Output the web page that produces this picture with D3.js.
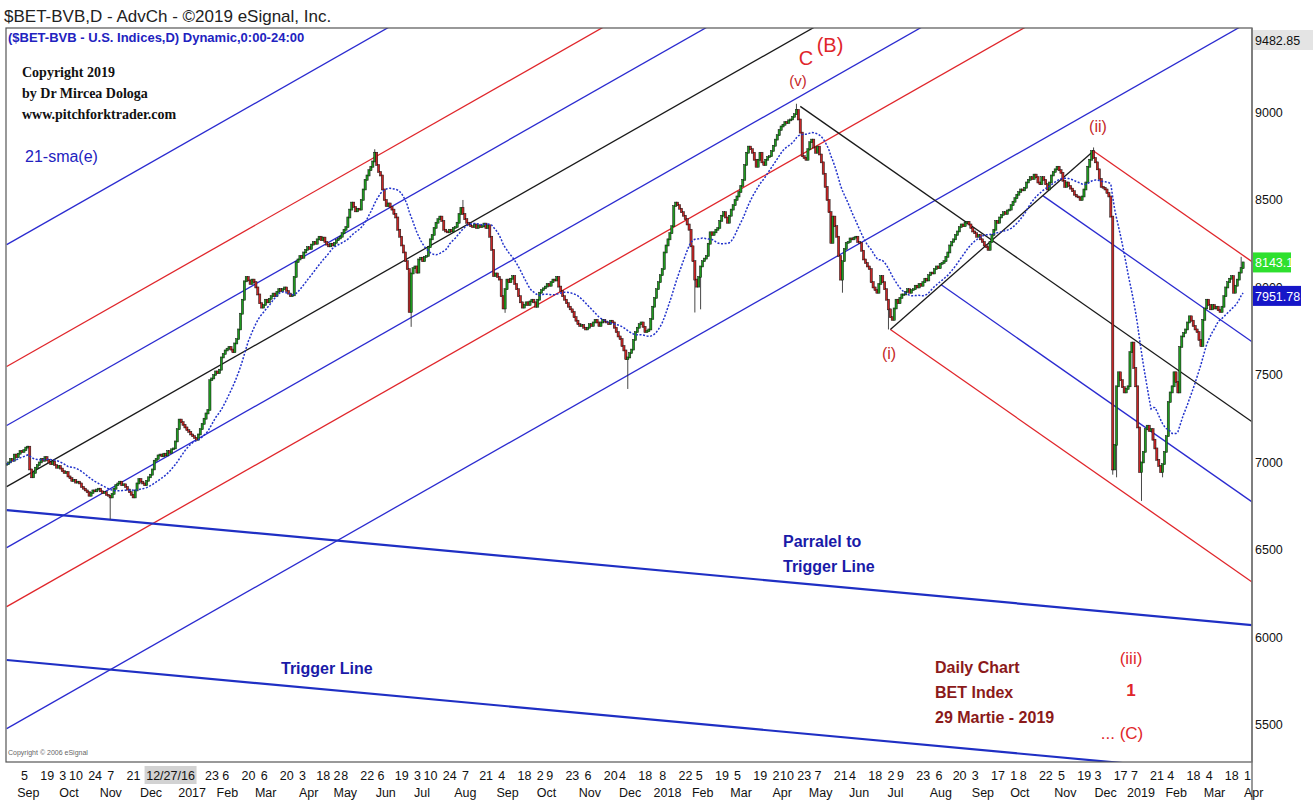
<!DOCTYPE html>
<html>
<head>
<meta charset="utf-8">
<title>$BET-BVB Daily Chart</title>
<script src="https://d3js.org/d3.v7.min.js"></script>
<style>
  body { margin: 0; background: #fff; }
  text { font-family: "Liberation Sans", Arial, sans-serif; }
</style>
</head>
<body>
<svg width="1313" height="800"></svg>
<script>
// daily closes, one value per BVB trading day
const closes2016 = [
  6990,7000,7020,7010,7045,7030,7050,7065,7060,7070,
  7085,7090,6960,6915,6940,6970,6985,7000,7020,7010,
  7030,7015,7000,6990,7005,6985,6970,6980,6965,6950,
  6940,6945,6920,6910,6895,6900,6885,6890,6880,
  6860,6850,6840,6830,6810,6825,6840,6835,6845,6850,
  6835,6825,6830,6815,6810,6800,6820,6850,6870,6880,
  6890,6870,6875,6860,6845,6830,6815,6800,6840,
  6880,6905,6890,6880,6870,6895,6915,6930,6960,7010,
  7020,7040,7045,7035,7050,7040,7065,7055,7075,
  7080,7120,7190
];
const closes2017 = [
  7245,7230,7215,7200,7185,7175,7160,7150,7140,7130,7160,7190,7220,7250,7280,7300,7470,7480,
  7500,7520,7510,7530,7600,7620,7640,7650,7660,7645,7630,7680,7705,7760,7850,7930,8035,8060,8040,8020,8045,8030,8000,7960,
  7910,7885,7900,7930,7915,7935,7950,7965,7950,7975,7990,7980,7990,8000,7980,7965,7950,7955,8060,8145,8160,8180,8170,8200,
  8215,8230,8220,8245,8260,8250,8275,8290,8270,8285,8260,8245,8235,8250,8240,8255,8270,8280,8290,8310,8330,8345,8400,8445,
  8485,8460,8435,8450,8445,8500,8560,8615,8640,8670,8690,8720,8770,8700,8660,8640,8560,8500,8465,8480,8460,8445,8420,8400,
  8330,8290,8240,8200,8150,8105,7860,8080,8110,8120,8085,8160,8170,8150,8175,8180,8230,8275,8300,8340,8370,8390,8405,8380,
  8330,8320,8315,8330,8320,8340,8345,8370,8420,8455,8420,8390,8370,8360,8350,8345,8360,8340,8355,8345,8350,8365,8340,8355,
  8290,8215,8065,8080,8060,8045,7950,7880,7990,8045,8030,8050,8065,8020,7990,7950,7915,7885,7900,7915,7900,7920,7930,7915,
  7890,7930,7970,7985,7995,8005,8020,8010,8030,8045,8040,8060,8005,7980,7950,7930,7910,7890,7875,7860,7830,7810,7790,7780,
  7785,7770,7760,7770,7790,7780,7800,7815,7800,7780,7800,7815,7805,7800,7790,7810,7800,7770,7745,7720,7705,7665,7640,
  7590,7600,7625,7645,7700,7745,7770,7790,7800,7775,7745,7750,7760,7820,7890
];
const closes2018 = [
  7940,7990,8030,8070,8105,8200,8240,8275,8310,8350,
  8465,8485,8470,8450,8430,8410,8390,8360,8330,8235,8150,8045,8005,8060,8120,8150,8165,8180,8250,8315,8300,8315,8330,8340,
  8380,8410,8430,8400,8370,8410,8445,8470,8500,8520,8545,8580,8615,8700,8770,8805,8790,8770,8730,8690,8730,8770,8715,8700,
  8730,8745,8750,8780,8810,8845,8870,8900,8920,8930,8945,8940,8955,8960,8975,8990,9015,8960,8885,8750,8740,8730,8790,8830,
  8845,8800,8770,8805,8760,8715,8650,8575,8500,8430,8255,8405,8350,8290,8180,8045,8150,8220,8255,8260,8280,8275,8285,8290,
  8260,8255,8210,8160,8140,8120,8105,8030,8000,7985,7970,8020,8065,8030,7990,7930,7875,7830,7815,7880,7930,7910,7940,7960,
  7960,7975,7990,7970,7985,7990,8010,8000,8020,8010,8030,8050,8040,8070,8085,8080,8105,8120,8110,8135,8140,8150,8175,8200,
  8240,8260,8275,8300,8320,8345,8360,8350,8370,8375,8360,8340,8320,8310,8290,8300,8275,8260,8240,8230,8215,8260,8300,8330,
  8380,8370,8400,8415,8430,8420,8440,8445,8470,8490,8510,8530,8545,8560,8555,8570,8600,8615,8630,8620,8645,8630,8600,8590,
  8630,8615,8590,8560,8600,8640,8660,8675,8690,8670,8655,8610,8575,8600,8580,8565,8550,8530,8520,8515,8500,8520,8560,8600,
  8690,8730,8780,8740,8715,8675,8620,8575,8570,8560,8540,8520,8405,6960,7100,7435,7515,7470,7430,7400,7420
];
const closes2019 = [
  7435,7630,7685,
  7540,7435,7200,6945,7000,7060,7190,7210,7180,7190,7130,7080,7015,6980,6945,6990,7060,7150,7345,7400,7435,7515,7460,7400,
  7660,7720,7740,7760,7800,7835,7810,7780,7760,7745,7700,7665,7815,7880,7930,7900,7875,7900,7880,7890,7870,7860,7890,7950,
  8000,8030,8050,8065,7970,8010,8045,8085,8110,8143.1
];
// long shadows that stick out of the bodies [bar index, price]
const wickLows = [[54,6675],[211,7775],[260,7855],[324,7420],[359,7857],[362,7875],[436,7970],[460,7760],[577,6930],[579,6915],[592,6780],[603,6915]];
const wickHighs = [[11,7095],[192,8790],[238,8500],[412,9050],[567,8800],[644,8175]];

// BVB calendar
const firstDay = "2016-08-24", lastDay = "2019-04-01";
const holidays = [
  "2016-11-30","2016-12-01","2016-12-26",
  "2017-01-02","2017-01-24","2017-04-14","2017-04-17","2017-05-01","2017-06-01","2017-06-05","2017-08-15","2017-11-30","2017-12-01","2017-12-25","2017-12-26",
  "2018-01-01","2018-01-02","2018-01-24","2018-04-06","2018-04-09","2018-05-01","2018-05-28","2018-06-01","2018-08-15","2018-11-30","2018-12-24","2018-12-25","2018-12-26","2018-12-31",
  "2019-01-01","2019-01-02","2019-01-24"
];

// axis labels
const yTicks = [9000, 8500, 8000, 7500, 7000, 6500, 6000, 5500];
const yTop = 9482.85, yBottom = 5288;
const lastClose = 8143.1, lastSma = 7951.78;
const dayTicks = [
  ["2016-09-05","5"],["2016-09-19","19"],["2016-10-03","3"],["2016-10-10","10"],["2016-10-24","24"],["2016-11-07","7"],["2016-11-21","21"],
  ["2017-01-23","23"],["2017-02-06","6"],["2017-02-20","20"],["2017-03-06","6"],["2017-03-20","20"],["2017-04-03","3"],["2017-04-18","18"],["2017-05-02","2"],["2017-05-08","8"],["2017-05-22","22"],["2017-06-06","6"],["2017-06-19","19"],["2017-07-03","3"],["2017-07-10","10"],["2017-07-24","24"],["2017-08-07","7"],["2017-08-21","21"],["2017-09-04","4"],["2017-09-18","18"],["2017-10-02","2"],["2017-10-09","9"],["2017-10-23","23"],["2017-11-06","6"],["2017-11-20","20"],["2017-12-04","4"],["2017-12-18","18"],
  ["2018-01-08","8"],["2018-01-22","22"],["2018-02-05","5"],["2018-02-19","19"],["2018-03-05","5"],["2018-03-19","19"],["2018-04-02","2"],["2018-04-10","10"],["2018-04-23","23"],["2018-05-07","7"],["2018-05-21","21"],["2018-06-04","4"],["2018-06-18","18"],["2018-07-02","2"],["2018-07-09","9"],["2018-07-23","23"],["2018-08-06","6"],["2018-08-20","20"],["2018-09-03","3"],["2018-09-17","17"],["2018-10-01","1"],["2018-10-08","8"],["2018-10-22","22"],["2018-11-05","5"],["2018-11-19","19"],["2018-12-03","3"],["2018-12-17","17"],
  ["2019-01-07","7"],["2019-01-21","21"],["2019-02-04","4"],["2019-02-18","18"],["2019-03-04","4"],["2019-03-18","18"],["2019-04-01","1"]
];
const cursorTick = ["2016-12-27","12/27/16"];
const monthTicks = [
  ["2016-09","Sep"],["2016-10","Oct"],["2016-11","Nov"],["2016-12","Dec"],
  ["2017-01","2017"],["2017-02","Feb"],["2017-03","Mar"],["2017-04","Apr"],["2017-05","May"],["2017-06","Jun"],["2017-07","Jul"],["2017-08","Aug"],["2017-09","Sep"],["2017-10","Oct"],["2017-11","Nov"],["2017-12","Dec"],
  ["2018-01","2018"],["2018-02","Feb"],["2018-03","Mar"],["2018-04","Apr"],["2018-05","May"],["2018-06","Jun"],["2018-07","Jul"],["2018-08","Aug"],["2018-09","Sep"],["2018-10","Oct"],["2018-11","Nov"],["2018-12","Dec"],
  ["2019-01","2019"],["2019-02","Feb"],["2019-03","Mar"],["2019-04","Apr"]
];

// drawing tools, anchored in [bar index, price]
const upMedian = [[0, 6862], [660, 10975]];
const upOffsets = [-1383, -686, -349, 0, 349, 686, 1383];
const upColors = ["#2b2bd0","#e0262b","#2b2bd0","#1a1a1a","#2b2bd0","#e0262b","#2b2bd0"];
const downPivots = [[414, 9035], [461, 7760], [567, 8780]];
const triggerLine = [[0, 5871], [660, 5203]];
const triggerParallel = [[0, 6728], [660, 6060]];

// ---------------------------------------------------------------
const svg = d3.select("svg");
const W = 1313, H = 800;
const plot = { left: 6, right: 1252, top: 28, bottom: 762 };

svg.append("rect").attr("width", W).attr("height", H).attr("fill", "#fff");

const parse = d3.utcParse("%Y-%m-%d");
const holidaySet = new Set(holidays);
const fmt = d3.utcFormat("%Y-%m-%d");
const days = d3.utcDay.range(parse(firstDay), d3.utcDay.offset(parse(lastDay), 1))
  .filter(d => d.getUTCDay() > 0 && d.getUTCDay() < 6 && !holidaySet.has(fmt(d)));
const dayIndex = s => d3.bisectLeft(days, parse(s));

const closes = [...closes2016, ...closes2017, ...closes2018, ...closes2019];

const x = d3.scaleLinear().domain([0, days.length - 1]).range([6.7, 1245]);
const y = d3.scaleLinear().domain([yBottom, yTop]).range([plot.bottom, plot.top]);

svg.append("clipPath").attr("id", "clip").append("rect")
  .attr("x", plot.left).attr("y", plot.top)
  .attr("width", plot.right - plot.left).attr("height", plot.bottom - plot.top);

const g = svg.append("g").attr("clip-path", "url(#clip)");

function seg(p, q, color, width) {
  g.append("line")
    .attr("x1", x(p[0])).attr("y1", y(p[1]))
    .attr("x2", x(q[0])).attr("y2", y(q[1]))
    .attr("stroke", color).attr("stroke-width", width);
}

// rising pitchfork
upOffsets.forEach((off, k) => {
  seg([upMedian[0][0], upMedian[0][1] + off], [upMedian[1][0], upMedian[1][1] + off], upColors[k], 1.3);
});

// falling pitchfork from (v), (i), (ii)
const [P0, P1, P2] = downPivots;
const M = [(P1[0] + P2[0]) / 2, (P1[1] + P2[1]) / 2];
const slope = (M[1] - P0[1]) / (M[0] - P0[0]);
const endJ = 680;
const along = (p) => [endJ, p[1] + slope * (endJ - p[0])];
seg(P0, along(P0), "#1a1a1a", 1.3);
seg(P1, along(P1), "#e0262b", 1.3);
seg(P2, along(P2), "#e0262b", 1.3);
const H1 = [(M[0] + P1[0]) / 2, (M[1] + P1[1]) / 2];
const H2 = [(M[0] + P2[0]) / 2, (M[1] + P2[1]) / 2];
seg(H1, along(H1), "#2b2bd0", 1.3);
seg(H2, along(H2), "#2b2bd0", 1.3);
seg(P1, P2, "#1a1a1a", 1.3);

// trigger lines
seg(triggerLine[0], triggerLine[1], "#1f2fc4", 2.2);
seg(triggerParallel[0], triggerParallel[1], "#1f2fc4", 2.2);

// candles
const bars = closes.map((c, i) => {
  const o = i ? closes[i - 1] : c;
  return { i, o, c, h: Math.max(o, c), l: Math.min(o, c) };
});
wickLows.forEach(([i, v]) => { bars[i].l = Math.min(bars[i].l, v); });
wickHighs.forEach(([i, v]) => { bars[i].h = Math.max(bars[i].h, v); });

g.append("g").selectAll("line").data(bars).join("line")
  .attr("x1", d => x(d.i)).attr("x2", d => x(d.i))
  .attr("y1", d => y(d.h)).attr("y2", d => y(d.l))
  .attr("stroke", "#333").attr("stroke-width", 0.9);

g.append("g").selectAll("rect").data(bars).join("rect")
  .attr("x", d => x(d.i) - 1.1)
  .attr("width", 2.2)
  .attr("y", d => y(Math.max(d.o, d.c)) - 0.5)
  .attr("height", d => Math.max(1.5, Math.abs(y(d.o) - y(d.c)) + 1))
  .attr("fill", d => d.c >= d.o ? "#1f9a1f" : "#c62626")
  .attr("stroke", "#111").attr("stroke-width", 0.5);

// 21 bar moving average
const sma = closes.map((c, i) => d3.mean(closes.slice(Math.max(0, i - 20), i + 1)));
g.append("path")
  .attr("d", d3.line().x((d, i) => x(i)).y(d => y(d))(sma))
  .attr("fill", "none").attr("stroke", "#2233cc")
  .attr("stroke-width", 1.5).attr("stroke-dasharray", "2,1.6");

// frame
svg.append("rect").attr("x", plot.left).attr("y", plot.top)
  .attr("width", plot.right - plot.left).attr("height", plot.bottom - plot.top)
  .attr("fill", "none").attr("stroke", "#555").attr("stroke-width", 1.2);
svg.append("line").attr("x1", plot.right).attr("x2", plot.right)
  .attr("y1", plot.top).attr("y2", H).attr("stroke", "#777").attr("stroke-width", 1.5);

// right price axis
const ax = svg.append("g");
ax.selectAll("text.tick").data(yTicks).join("text")
  .attr("class", "tick")
  .attr("x", plot.right + 3).attr("y", d => y(d) + 4.5)
  .attr("font-size", 12.5).attr("fill", "#111").text(d => d);
ax.append("rect").attr("x", plot.right + 1).attr("y", 30).attr("width", 60).attr("height", 20).attr("fill", "#e4e4e4");
ax.append("text").attr("x", plot.right + 3).attr("y", 45).attr("font-size", 12.5).attr("fill", "#111").text(yTop);
ax.append("rect").attr("x", plot.right + 1).attr("y", y(lastClose) - 10).attr("width", 38).attr("height", 20).attr("fill", "#2ee02e");
ax.append("text").attr("x", plot.right + 3).attr("y", y(lastClose) + 5).attr("font-size", 12.5).attr("fill", "#fff").text(lastClose);
ax.append("rect").attr("x", plot.right + 1).attr("y", y(lastSma) - 10).attr("width", 48).attr("height", 20).attr("fill", "#1616c8");
ax.append("text").attr("x", plot.right + 3).attr("y", y(lastSma) + 5).attr("font-size", 12.5).attr("fill", "#fff").text(lastSma);

// date axis
const xa = svg.append("g");
xa.selectAll("text.day").data(dayTicks).join("text")
  .attr("class", "day")
  .attr("x", d => x(dayIndex(d[0])) - 1).attr("y", 780)
  .attr("font-size", 12.5).attr("fill", "#111").text(d => d[1]);
const cx = x(dayIndex(cursorTick[0]));
xa.append("rect").attr("x", cx - 27).attr("y", 766).attr("width", 52).attr("height", 18).attr("fill", "#d2d2d2");
xa.append("text").attr("x", cx - 1).attr("y", 780).attr("text-anchor", "middle")
  .attr("font-size", 12.5).attr("fill", "#111").text(cursorTick[1]);
xa.selectAll("text.month").data(monthTicks).join("text")
  .attr("class", "month")
  .attr("x", d => x(dayIndex(d[0] + "-01")) - 1).attr("y", 797)
  .attr("font-size", 12.5).attr("fill", "#111").text(d => d[1]);

// titles and notes
function note(px, py, str, size, color, weight, family, anchor) {
  svg.append("text").attr("x", px).attr("y", py)
    .attr("font-size", size).attr("fill", color)
    .attr("font-weight", weight || "normal")
    .attr("text-anchor", anchor || "start")
    .style("font-family", family || null)
    .text(str);
}
const narrow = '"Liberation Sans Narrow", "Arial Narrow", "Liberation Sans", sans-serif';
const serif = '"Liberation Serif", "Times New Roman", serif';

note(4, 22, "$BET-BVB,D - AdvCh - \u00a92019 eSignal, Inc.", 17, "#222");
note(8, 42, "($BET-BVB - U.S. Indices,D) Dynamic,0:00-24:00", 13, "#2222c0", "bold", narrow);
note(22, 77, "Copyright 2019", 14, "#111", "bold", serif);
note(22, 98, "by Dr Mircea Dologa", 14, "#111", "bold", serif);
note(22, 119, "www.pitchforktrader.com", 14, "#111", "bold", serif);
note(25, 162, "21-sma(e)", 16, "#2222c0", "normal", narrow);

note(806, 65, "C", 20, "#e0262b", "normal", narrow, "middle");
note(830, 52, "(B)", 20, "#e0262b", "normal", narrow, "middle");
note(798, 86, "(v)", 15, "#c62828", "normal", narrow, "middle");
note(1098, 132, "(ii)", 16, "#c62828", "normal", narrow, "middle");
note(889, 359, "(i)", 16, "#c62828", "normal", narrow, "middle");

note(783, 547, "Parralel to", 16, "#1a1aa8", "bold", narrow);
note(783, 572, "Trigger Line", 16, "#1a1aa8", "bold", narrow);
note(281, 674, "Trigger Line", 16, "#1a1aa8", "bold", narrow);

note(935, 673, "Daily Chart", 16, "#8b1a1a", "bold", narrow);
note(935, 698, "BET Index", 16, "#8b1a1a", "bold", narrow);
note(935, 723, "29 Martie -  2019", 16, "#8b1a1a", "bold", narrow);

note(1131, 664, "(iii)", 17, "#e0262b", "normal", narrow, "middle");
note(1131, 696, "1", 17, "#e0262b", "bold", narrow, "middle");
note(1122, 739, "... (C)", 17, "#e0262b", "normal", narrow, "middle");

note(8, 755, "Copyright \u00a9 2006 eSignal", 7, "#666");
</script>
</body>
</html>
